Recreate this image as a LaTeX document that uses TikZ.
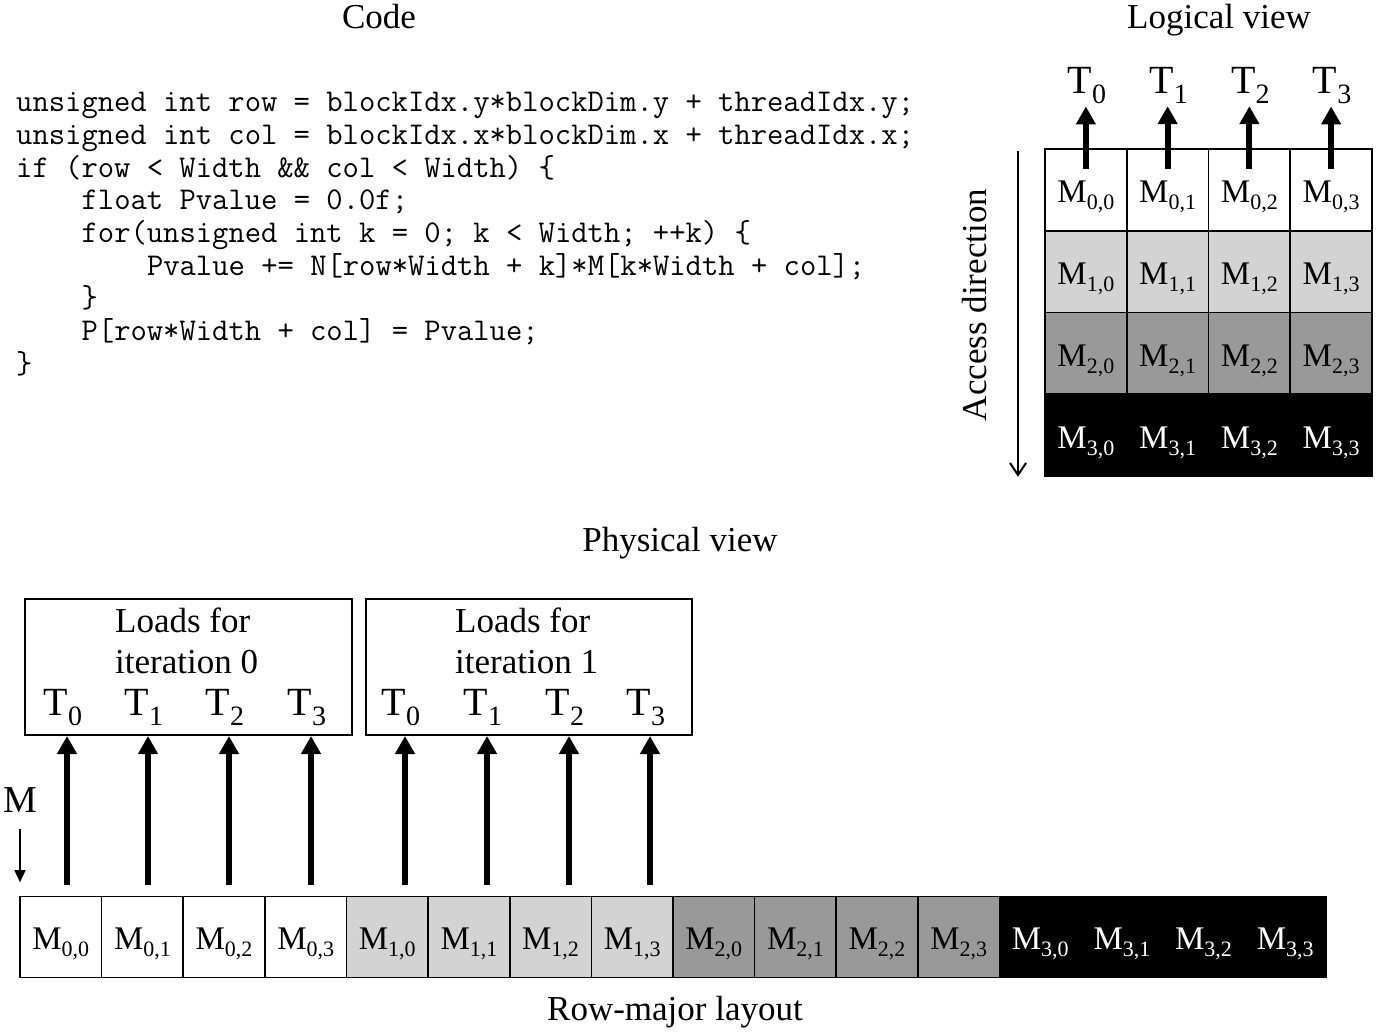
\documentclass[tikz,border=0pt]{standalone}
\usepackage{fontspec}
\setmainfont{Liberation Serif}
\usetikzlibrary{arrows.meta}
\definecolor{lgray}{RGB}{211,211,211}
\definecolor{mgray}{RGB}{153,153,153}
\newcommand{\Msub}[2]{M\raisebox{-7pt}{\fontsize{22}{22}\selectfont #1,#2}}
\newcommand{\Tsub}[1]{T\raisebox{-10pt}{\fontsize{28}{28}\selectfont #1}}
\begin{document}
\begin{tikzpicture}[x=1pt,y=-1pt,
  heading/.style={anchor=base, inner sep=0, font=\fontsize{35}{42}\selectfont},
  codeline/.style={anchor=base west, inner sep=0, font=\ttfamily\fontsize{31.7}{32.7}\selectfont},
  gcell/.style={draw=black, line width=1.6pt, minimum width=81.75pt, minimum height=81.75pt, inner sep=0,
    font=\fontsize{33}{33}\selectfont, text height=36pt, text depth=10pt},
  scell/.style={draw=black, line width=1.6pt, minimum width=81.625pt, minimum height=81pt, inner sep=0,
    font=\fontsize{33}{33}\selectfont, text height=36pt, text depth=12pt},
  tlab/.style={anchor=base, inner sep=0, font=\fontsize{40}{40}\selectfont},
  bigarrow/.style={line width=6pt, -{Triangle[length=18pt,width=19pt]}},
  loadbox/.style={draw=black, line width=2pt, minimum height=136pt, inner sep=0}
]
\useasboundingbox (0,0) rectangle (1376,1034);

% headings
\node[heading] (hcode) at (379,28) {Code};
\node[heading] (hlog) at (1219,28) {Logical view};
\node[heading] (hphys) at (680,551) {Physical view};
\node[heading] (hrow) at (675,1020) {Row-major layout};

% code
\node[codeline] (c1) at (16,111.7) {unsigned int row = blockIdx.y*blockDim.y + threadIdx.y;};
\node[codeline] (c2) at (16,144.4) {unsigned int col = blockIdx.x*blockDim.x + threadIdx.x;};
\node[codeline] (c3) at (16,177.1) {if (row < Width \&\& col < Width) \{};
\node[codeline] (c4) at (81.4,209.8) {float Pvalue = 0.0f;};
\node[codeline] (c5) at (81.4,242.5) {for(unsigned int k = 0; k < Width; ++k) \{};
\node[codeline] (c6) at (146.8,275.2) {Pvalue += N[row*Width + k]*M[k*Width + col];};
\node[codeline] (c7) at (81.4,307.9) {\}};
\node[codeline] (c8) at (81.4,340.6) {P[row*Width + col] = Pvalue;};
\node[codeline] (c9) at (16,373.3) {\}};

% logical view grid
\foreach \i/\fc/\tc in {0/white/black,1/lgray/black,2/mgray/black,3/black/white} {
  \foreach \j in {0,...,3} {
    \node[gcell, fill=\fc, text=\tc] (L\i\j) at ({1045+81.75*(\j+0.5)},{149+81.75*(\i+0.5)}) {\Msub{\i}{\j}};
  }
}
\foreach \j in {0,...,3} {
  \coordinate (la\j) at ([yshift=-21pt]L0\j.north);
  \node[tlab] (TL\j) at ({1045+81.75*(\j+0.5)+1},93) {\Tsub{\j}};
  \draw[bigarrow, shorten >=3pt] (la\j) -- (la\j |- TL\j.south);
}

% access direction
\node[rotate=90, inner sep=0, font=\fontsize{35}{35}\selectfont] (acc) at (975,305) {Access direction};
\coordinate (ac0) at (1018,151);
\draw[line width=2pt, -{Straight Barb[length=12pt,width=16pt]}] (ac0) -- (ac0 |- L30.south);

% physical view: load boxes
\node[loadbox, minimum width=327pt] (box0) at (188.5,667) {};
\node[loadbox, minimum width=326pt] (box1) at (529,667) {};
\node[heading, anchor=base west] (ld0) at (115,632) {Loads for};
\node[heading, anchor=base west] (it0) at (115,673) {iteration 0};
\node[heading, anchor=base west] (ld1) at (455,632) {Loads for};
\node[heading, anchor=base west] (it1) at (455,673) {iteration 1};

% strip
\foreach \r/\fc/\tc in {0/white/black,1/lgray/black,2/mgray/black,3/black/white} {
  \foreach \c in {0,...,3} {
    \node[scell, fill=\fc, text=\tc] (S\r\c) at ({20+81.625*(4*\r+\c+0.5)},937) {\Msub{\r}{\c}};
  }
}

% arrows and thread labels
\foreach \x/\n/\b/\t in {67/0/0/0,148/1/0/1,229/2/0/2,311/3/0/3,405/4/1/0,487/5/1/1,569/6/1/2,650/7/1/3} {
  \coordinate (pa\n) at (\x,885);
  \node[tlab] (PT\n) at (\x-4,715) {\Tsub{\t}};
  \draw[bigarrow] (pa\n) -- (pa\n |- box\b.south);
}

% M label
\node[anchor=base, inner sep=0, font=\fontsize{38}{38}\selectfont] (mlab) at (20,812) {M};
\coordinate (ma) at (20,829);
\draw[line width=1.5pt, -{Triangle[length=12pt,width=11pt]}, shorten >=13.5pt] (ma) -- (ma |- S00.north);
\end{tikzpicture}
\end{document}
